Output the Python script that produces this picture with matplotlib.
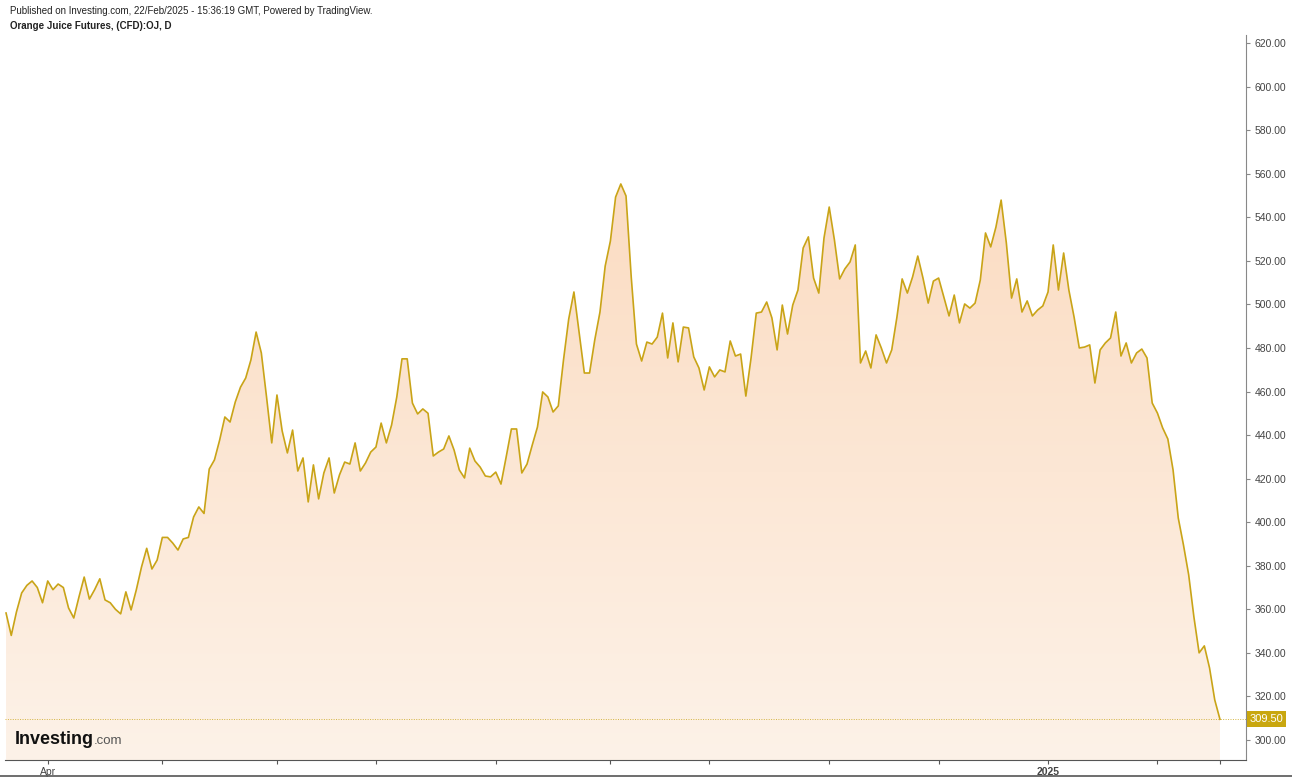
import matplotlib.pyplot as plt
import numpy as np
from matplotlib.colors import LinearSegmentedColormap
from matplotlib.patches import Polygon
from matplotlib.lines import Line2D
from matplotlib.transforms import blended_transform_factory

plt.rcParams['font.family'] = ['Liberation Sans', 'DejaVu Sans']

# Orange juice futures, daily closes
prices = [
    358.3, 348.0, 358.8, 367.5, 371.0, 373.0, 370.0, 363.0, 373.0, 369.0,
    371.6, 370.0, 360.6, 356.0, 365.7, 374.8, 364.7, 369.0, 374.0, 364.3,
    363.0, 360.0, 357.9, 368.0, 359.7, 368.9, 379.4, 388.0, 378.5, 382.6,
    393.0, 393.0, 390.4, 387.2, 392.3, 393.0, 402.4, 407.0, 404.0,
    424.4, 428.6, 437.7, 448.3, 446.0, 455.2, 462.0, 466.2, 474.5, 487.3,
    477.7, 457.5, 436.4, 458.4, 441.9, 431.8, 442.3, 423.5, 429.5, 409.3,
    426.3, 410.7, 422.6, 429.5, 413.4, 421.7, 427.6, 426.7, 436.4, 423.5,
    427.2, 432.2, 434.5, 445.5, 436.4, 444.6, 457.5, 475.0, 475.0,
    454.7, 449.7, 452.0, 450.0, 430.4, 432.2, 433.6, 439.6, 433.1, 424.0,
    420.3, 434.0, 428.1, 425.3, 421.2, 420.8, 423.0, 417.5, 430.0, 442.8,
    442.8, 422.6, 426.7, 435.4, 443.7, 459.8, 457.5, 450.6, 453.4, 474.5,
    493.3, 505.7, 486.9, 468.5, 468.5, 483.7, 496.5, 517.6, 529.1, 549.3,
    555.3, 549.8,
    512.6, 481.8, 474.0, 482.7, 481.8, 485.0, 496.0, 475.4, 491.5, 473.6,
    489.6, 489.2, 475.9, 470.8, 460.7, 471.3, 466.7, 469.9, 469.0, 483.2,
    476.3, 477.2, 457.9, 475.4, 496.0, 496.5, 501.1, 493.8, 479.1, 499.7,
    486.4, 499.7, 506.6, 525.9, 531.0, 512.1, 505.2, 530.5, 544.7,
    529.6, 511.7, 516.3, 519.5, 527.3, 473.1, 478.6, 470.8, 486.0, 480.0,
    473.1, 479.1, 494.2, 511.7, 505.2, 512.6, 522.2, 512.1, 500.6, 510.7,
    512.1, 503.4, 494.7, 504.3, 491.5, 500.2, 498.3, 500.6, 511.2, 532.8,
    526.4, 535.5, 547.9, 528.2, 502.9, 511.7, 496.5, 501.6, 494.7, 497.4,
    499.3, 505.7,
    527.3, 506.6, 523.6, 506.6, 494.2, 480.0, 480.4, 481.4, 463.9, 479.1,
    482.3, 484.6, 496.5, 476.3, 482.3, 473.1, 477.7, 479.5, 475.4, 454.7,
    450.1, 443.3, 438.2, 424.0, 401.9, 389.5, 375.8, 356.5, 340.0, 343.2,
    333.1, 318.4, 309.5,
]
last_price = 309.50

# month starts as trading-day index
month_ticks = [8, 30, 52, 71, 94, 116, 135, 158, 179, 200, 221, 233]
month_labels = ['Apr', '', '', '', '', '', '', '', '', '2025', '', '']
y_ticks = list(range(300, 621, 20))

line_color = '#c9a417'
y_min, y_max = 290.8, 623.7

days = np.arange(len(prices))

fig = plt.figure(figsize=(12.92, 7.8), dpi=100)
ax = fig.add_axes([5 / 1292, 20 / 780, 1241 / 1292, 725 / 780])

# gradient area under the line
grad = np.linspace(0, 1, 256).reshape(-1, 1)
cmap = LinearSegmentedColormap.from_list('oj', ['#fdf2e8', '#fbdcc2'])
im = ax.imshow(grad, cmap=cmap, aspect='auto', origin='lower',
               extent=[days[0], days[-1], y_min, max(prices)], zorder=1)
verts = [(days[0], y_min)] + list(zip(days, prices)) + [(days[-1], y_min)]
clip = Polygon(verts, closed=True, fc='none', ec='none')
ax.add_patch(clip)
im.set_clip_path(clip)

ax.plot(days, prices, color=line_color, lw=1.2, zorder=3)
ax.axhline(last_price, color=line_color, lw=0.7, alpha=0.8,
           ls=(0, (1, 1.5)), zorder=2)

ax.set_xlim(-0.2, 238)
ax.set_ylim(y_min, y_max)

# axes styling
for side in ['left', 'top']:
    ax.spines[side].set_visible(False)
ax.spines['right'].set_color('#888888')
ax.spines['bottom'].set_color('#555555')
ax.yaxis.tick_right()
ax.set_yticks(y_ticks)
ax.set_yticklabels([f'{v:.2f}' for v in y_ticks])
ax.tick_params(axis='y', length=3, width=0.8, color='#888888',
               labelsize=7.5, labelcolor='#444444', pad=3)
ax.set_xticks(month_ticks)
ax.set_xticklabels(month_labels)
ax.tick_params(axis='x', length=3, width=0.8, color='#555555',
               labelsize=7.5, labelcolor='#444444', pad=2)
for lbl in ax.get_xticklabels():
    if lbl.get_text() == '2025':
        lbl.set_fontweight('bold')

# last price badge on the right axis
trans = blended_transform_factory(ax.transAxes, ax.transData)
ax.text(1.003, last_price, f'{last_price:.2f}', transform=trans,
        ha='left', va='center', fontsize=8, color='white', clip_on=False,
        bbox=dict(boxstyle='square,pad=0.25', fc='#c9a70f', ec='none'))

# header texts
fig.text(10 / 1292, 1 - 11 / 780,
         'Published on Investing.com, 22/Feb/2025 - 15:36:19 GMT, Powered by TradingView.',
         fontsize=7, va='center', color='#222222')
fig.text(10 / 1292, 1 - 26 / 780, 'Orange Juice Futures, (CFD):OJ, D',
         fontsize=7, va='center', fontweight='bold', color='#222222')

# watermark logo
fig.text(15 / 1292, 1 - 744 / 780, 'Investing', fontsize=13, fontweight='bold',
         va='baseline', color='#111111')
fig.text(94 / 1292, 1 - 744 / 780, '.com', fontsize=9.5, va='baseline',
         color='#555555')

# bottom separator
fig.add_artist(Line2D([0, 1], [4 / 780, 4 / 780], color='#555555', lw=1.2))

fig.savefig('out.png', dpi=100)
